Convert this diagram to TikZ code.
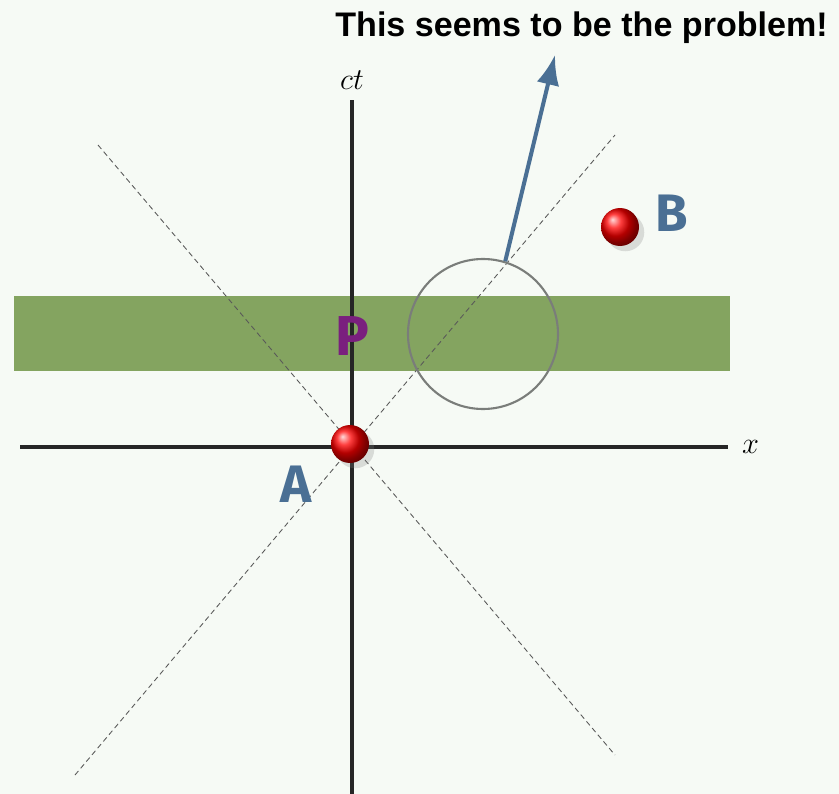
\documentclass[tikz,border=0pt]{standalone}
\usepackage{fontspec}
\setmainfont{Liberation Sans}
\newfontfamily\labelfont{Fira Sans}
\usepackage{xcolor}
\usetikzlibrary{positioning,arrows.meta,shadows,calc}
\definecolor{paper}{HTML}{F6FAF5}
\definecolor{band}{HTML}{84A460}
\definecolor{steel}{HTML}{4A6F94}
\definecolor{plum}{HTML}{7A1F7E}
\definecolor{ring}{HTML}{7A7D7A}
\tikzset{
    axis/.style={line width=1.8pt, color=black!85},
    cone/.style={dashed, dash pattern=on 3pt off 2pt, line width=0.5pt, color=black!65},
    ball/.style={circle, minimum size=38*0.02cm, inner sep=0pt, shading=ball, ball color=red, drop shadow={shadow xshift=3pt, shadow yshift=-3pt, opacity=0.25}},
    tag/.style={font=\labelfont\bfseries\fontsize{30}{32}\selectfont, text=steel},
    axislabel/.style={font=\fontsize{17}{19}\selectfont}
}
\begin{document}
\begin{tikzpicture}[x=0.02cm, y=-0.02cm]

\fill[paper] (0,0) rectangle (839,794);
\useasboundingbox (0,0) rectangle (839,794);

% band
\fill[band] (14,296) rectangle (730,371);

% light cone
\coordinate (ll) at (75,775);
\coordinate (ur) at (615,135);
\coordinate (ul) at (98,145);
\coordinate (lr) at (615,755);
\draw[cone] (ll) -- (ur);
\draw[cone] (ul) -- (lr);

% axes
\coordinate (xl) at (20,447);
\coordinate (xr) at (728,447);
\coordinate (tb) at (352,794);
\coordinate (tt) at (352,100);
\draw[axis] (xl) -- (xr);
\draw[axis] (tb) -- (tt);
\node[axislabel, anchor=west] (xlab) at (736,447) {$x$};
\node[axislabel, anchor=south] (ctlab) at (352,96) {$ct$};

\node[font=\labelfont\bfseries\fontsize{32}{34}\selectfont, text=plum] (P) at (352,336) {P};

% balls
\node[ball] (A) at (350,444) {};
\node[tag] (Alab) at (296,484) {A};
\node[ball] (B) at (620,227) {};
\node[tag] (Blab) at (672,213) {B};

% problem
\node[circle, draw=ring, line width=1.2pt, minimum size=150*0.02cm, inner sep=0pt] (spot) at (483,334) {};
\node[font=\bfseries\fontsize{19.4}{22}\selectfont, anchor=east] (note) at (834,28) {This seems to be the problem!};
\coordinate (tip) at (555,55);
\draw[-{Latex[length=17pt, width=13pt]}, line width=2.3pt, steel] (spot.73) -- (tip);

\end{tikzpicture}
\end{document}
